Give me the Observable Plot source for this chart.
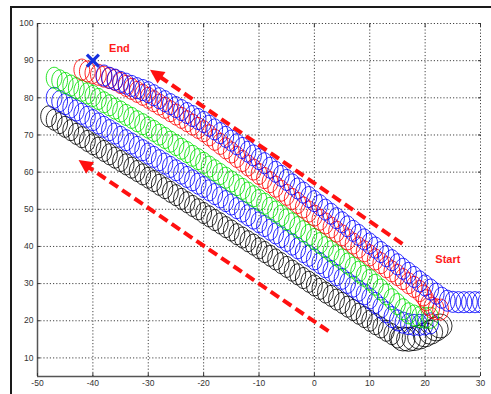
<!DOCTYPE html>
<html><head><meta charset="utf-8">
<script src="https://cdn.jsdelivr.net/npm/d3@7"></script>
<script src="https://cdn.jsdelivr.net/npm/@observablehq/plot@0.6"></script>
<style>
html,body{margin:0;padding:0;background:#fff;}
#wrap{position:relative;width:491px;height:394px;overflow:hidden;background:#fff;}
#wrap svg{position:absolute;left:0;top:0;}
#frame{position:absolute;left:10px;top:6px;width:600px;height:600px;border-top:2px solid #1a1a1a;border-left:2px solid #1a1a1a;pointer-events:none;}
</style></head>
<body><div id="wrap"><div id="frame"></div></div>
<script>
// ---- axes ----
const xTicks = [-50, -40, -30, -20, -10, 0, 10, 20, 30];
const yTicks = [10, 20, 30, 40, 50, 60, 70, 80, 90, 100];

// ---- circle centres of each trajectory (x, y) ----
const blackTrack = [[-48,75.0],[-47,74.1],[-46,73.2],[-45,72.2],[-44,71.3],[-43,70.3],[-42,69.4],[-41,68.4],[-40,67.5],
[-39,66.6],[-38,65.7],[-37,64.8],[-36,63.9],[-35,63.0],[-34,62.1],[-33,61.2],[-32,60.3],[-31,59.4],[-30,58.5],
[-29,57.6],[-28,56.6],[-27,55.7],[-26,54.7],[-25,53.8],[-24,52.8],[-23,51.9],[-22,50.9],[-21,50.0],[-20,49.0],
[-19,48.1],[-18,47.1],[-17,46.2],[-16,45.2],[-15,44.3],[-14,43.3],[-13,42.4],[-12,41.4],[-11,40.5],[-10,39.5],
[-9,38.5],[-8,37.5],[-7,36.5],[-6,35.5],[-5,34.5],[-4,33.5],[-3,32.5],[-2,31.5],[-1,30.5],[0,29.5],
[1,28.6],[2,27.6],[3,26.7],[4,25.7],[5,24.8],[6,23.8],[7,22.9],[8,21.9],[9,21.0],[10,20.0],
[11,19.1],[12,18.2],[13,17.3],[14,16.4],[15,15.5]];
// black turn near the start, where the circles are drawn rounder and larger
const blackTurn = [[16,15.1],[17,15.0],[18,15.2],[19,15.6],[20,16.2],[21,16.9],[22,17.8],[22.7,18.6]];

const blueLowTrack = [[-47,80.0],[-46,79.1],[-45,78.3],[-44,77.4],[-43,76.6],[-42,75.7],[-41,74.9],[-40,74.0],
[-39,73.1],[-38,72.2],[-37,71.3],[-36,70.4],[-35,69.5],[-34,68.6],[-33,67.7],[-32,66.8],[-31,65.9],[-30,65.0],
[-29,64.1],[-28,63.2],[-27,62.3],[-26,61.4],[-25,60.5],[-24,59.6],[-23,58.7],[-22,57.8],[-21,56.9],[-20,56.0],
[-19,55.1],[-18,54.1],[-17,53.2],[-16,52.2],[-15,51.3],[-14,50.3],[-13,49.4],[-12,48.4],[-11,47.5],[-10,46.5],
[-9,45.5],[-8,44.5],[-7,43.5],[-6,42.5],[-5,41.5],[-4,40.5],[-3,39.5],[-2,38.5],[-1,37.5],[0,36.5],
[1,35.5],[2,34.4],[3,33.4],[4,32.3],[5,31.3],[6,30.2],[7,29.2],[8,28.1],[9,27.1],[10,26.0],
[11,24.8],[12,23.5],[13,22.3],[14,21.0],[15,20.1],[16,19.5],[17,19.1],[18,18.9],[19,18.9],[20,19.0],[21,19.3]];

const greenTrack = [[-47,85.4],[-46,84.7],[-45,84.0],[-44,83.3],[-43,82.6],[-42,81.9],[-41,81.2],[-40,80.5],
[-39,79.7],[-38,78.8],[-37,78.0],[-36,77.1],[-35,76.3],[-34,75.4],[-33,74.6],[-32,73.7],[-31,72.9],[-30,72.0],
[-29,71.1],[-28,70.1],[-27,69.2],[-26,68.2],[-25,67.3],[-24,66.3],[-23,65.4],[-22,64.4],[-21,63.5],[-20,62.5],
[-19,61.5],[-18,60.5],[-17,59.5],[-16,58.5],[-15,57.5],[-14,56.5],[-13,55.5],[-12,54.5],[-11,53.5],[-10,52.5],
[-9,51.5],[-8,50.4],[-7,49.4],[-6,48.3],[-5,47.3],[-4,46.2],[-3,45.2],[-2,44.1],[-1,43.1],[0,42.0],
[1,40.9],[2,39.8],[3,38.7],[4,37.6],[5,36.5],[6,35.4],[7,34.3],[8,33.2],[9,32.1],[10,31.0],
[11,29.7],[12,28.4],[13,27.1],[14,25.8],[15,24.5],[16,23.1],[17,22.0],[18,21.4],[19,21.0],[20,20.8],[21,20.8]];

const redTrack = [[-42,87.6],[-41,87.1],[-40,86.7],[-39,86.2],[-38,85.7],[-37,85.3],[-36,84.8],
[-35,84.0],[-34,83.2],[-33,82.4],[-32,81.6],[-31,80.8],[-30,80.0],
[-29,79.1],[-28,78.2],[-27,77.3],[-26,76.4],[-25,75.5],[-24,74.6],[-23,73.7],[-22,72.8],[-21,71.9],[-20,71.0],
[-19,69.9],[-18,68.7],[-17,67.6],[-16,66.4],[-15,65.3],[-14,64.1],[-13,63.0],[-12,61.8],[-11,60.7],[-10,59.5],
[-9,58.4],[-8,57.3],[-7,56.1],[-6,55.0],[-5,53.9],[-4,52.8],[-3,51.7],[-2,50.5],[-1,49.4],[0,48.3],
[1,47.2],[2,46.2],[3,45.1],[4,44.0],[5,43.0],[6,41.9],[7,40.8],[8,39.7],[9,38.7],[10,37.6],
[11,36.5],[12,35.5],[13,34.4],[14,33.3],[15,32.3],[16,31.2],[17,30.1],[18,29.1],[19,28.0],
[19.7,26.8],[20.2,25.5],[20.6,24.3],[21.2,23.5],[22,23.1],[22.8,23.0]];

const blueTopTrack = [[-38,86.0],[-37,85.4],[-36,84.9],[-35,84.3],[-34,83.8],[-33,83.2],[-32,82.6],[-31,82.1],[-30,81.5],
[-29,80.7],[-28,79.9],[-27,79.1],[-26,78.3],[-25,77.5],[-24,76.7],[-23,75.9],[-22,75.1],[-21,74.3],[-20,73.5],
[-19,72.5],[-18,71.5],[-17,70.5],[-16,69.5],[-15,68.5],[-14,67.5],[-13,66.5],[-12,65.5],[-11,64.5],[-10,63.5],
[-9,62.4],[-8,61.2],[-7,60.1],[-6,59.0],[-5,57.9],[-4,56.7],[-3,55.6],[-2,54.5],[-1,53.3],[0,52.2],
[1,51.1],[2,49.9],[3,48.8],[4,47.6],[5,46.5],[6,45.4],[7,44.2],[8,43.1],[9,41.9],[10,40.8],
[11,39.7],[12,38.5],[13,37.4],[14,36.3],[15,35.2],[16,34.0],[17,32.9],[18,31.8],[19,30.6],[20,29.5],
[21,28.4],[22,27.3],[23,26.2],[24,25.4],[25,25.1],[26,25.0],[27,25.0],[28,25.0],[29,25.0],[30,25.0],[31,25.0],[32,25.0]];

// ---- annotations ----
const arrowTailX = [15.9, 2.55];
const arrowTailY = [40.7, 17.2];
const arrowHeadX = [-29.0, -41.9];
const arrowHeadY = [86.8, 62.5];
const labelText = ["End", "Start"];
const labelX = [-35.2, 24.1];
const labelY = [93.4, 36.6];
const endMarkX = [-40];
const endMarkY = [90];

// ---- build ----
const arrows = arrowTailX.map((d, i) => ({x1: d, y1: arrowTailY[i], x2: arrowHeadX[i], y2: arrowHeadY[i]}));
const labels = labelText.map((t, i) => ({t, x: labelX[i], y: labelY[i]}));
const endMark = endMarkX.map((x, i) => ({x, y: endMarkY[i]}));

const ellipse = {
  draw(ctx, size) {
    const r = Math.sqrt(size / Math.PI);
    const rx = r * 0.75, ry = r, k = 0.5523;
    ctx.moveTo(rx, 0);
    ctx.bezierCurveTo(rx, ry * k, rx * k, ry, 0, ry);
    ctx.bezierCurveTo(-rx * k, ry, -rx, ry * k, -rx, 0);
    ctx.bezierCurveTo(-rx, -ry * k, -rx * k, -ry, 0, -ry);
    ctx.bezierCurveTo(rx * k, -ry, rx, -ry * k, rx, 0);
    ctx.closePath();
  }
};

const tracks = [
  [blackTrack, "#000000"],
  [blueLowTrack, "#0000ff"],
  [greenTrack, "#00e000"],
  [redTrack, "#ff0000"],
  [blueTopTrack, "#0000ff"]
];

const fmt = d => String(d);
const plot = Plot.plot({
  width: 491, height: 394,
  marginLeft: 37, marginRight: 11, marginTop: 23, marginBottom: 18,
  style: {fontFamily: "'Liberation Sans', Arial, sans-serif", fontSize: "8.5px", color: "#333", background: "transparent", overflow: "visible"},
  x: {domain: [-50, 30]},
  y: {domain: [5, 100]},
  marks: [
    Plot.gridX(xTicks, {stroke: "#444", strokeOpacity: 1, strokeDasharray: "1.2,2"}),
    Plot.gridY(yTicks, {stroke: "#444", strokeOpacity: 1, strokeDasharray: "1.2,2"}),
    Plot.dot(blackTurn, {x: d => d[0], y: d => d[1], r: 12, stroke: "#000", strokeWidth: 0.8, fill: "none", clip: true}),
    ...tracks.map(([data, color]) => Plot.dot(data, {
      x: d => d[0], y: d => d[1], r: 10.5, symbol: ellipse,
      stroke: color, strokeWidth: 0.85, fill: "none", clip: true
    })),
    Plot.link(arrows, {x1: "x1", y1: "y1", x2: "x2", y2: "y2", stroke: "#ff1010", strokeWidth: 4, strokeDasharray: "10,5"}),
    Plot.dot(endMark, {x: "x", y: "y", symbol: "times", r: 5.5, stroke: "#1530e0", strokeWidth: 3.2}),
    Plot.text(labels, {x: "x", y: "y", text: "t", fill: "#ff1a1a", fontWeight: "bold", fontSize: 11, fontFamily: "'Liberation Sans', Arial, sans-serif"}),
    Plot.ruleX([-50], {stroke: "#555", strokeWidth: 1.5}),
    Plot.ruleY([5], {stroke: "#555", strokeWidth: 1.5}),
    Plot.axisX(xTicks, {anchor: "bottom", tickSize: -3, tickPadding: 6, tickFormat: fmt, label: null}),
    Plot.axisY(yTicks, {anchor: "left", tickSize: -3, tickPadding: 7, tickFormat: fmt, label: null}),
    Plot.axisX(xTicks, {anchor: "top", tickSize: -3, tickFormat: () => "", label: null}),
    Plot.axisY(yTicks, {anchor: "right", tickSize: -3, tickFormat: () => "", label: null})
  ]
});

// filled arrow heads placed with the plot's own scales
const sx = plot.scale("x"), sy = plot.scale("y");
const svg = d3.select(plot);
arrows.forEach(a => {
  const x1 = sx.apply(a.x1), y1 = sy.apply(a.y1), x2 = sx.apply(a.x2), y2 = sy.apply(a.y2);
  const dx = x2 - x1, dy = y2 - y1, L = Math.hypot(dx, dy), ux = dx / L, uy = dy / L;
  const tx = x2 + ux * 4, ty = y2 + uy * 4;
  const bx = tx - ux * 14, by = ty - uy * 14, hw = 7;
  svg.append("polygon")
    .attr("points", [[tx, ty], [bx - uy * hw, by + ux * hw], [bx + uy * hw, by - ux * hw]].map(p => p.join(",")).join(" "))
    .attr("fill", "#ff1010");
});

document.getElementById("wrap").appendChild(plot);
</script></body></html>
